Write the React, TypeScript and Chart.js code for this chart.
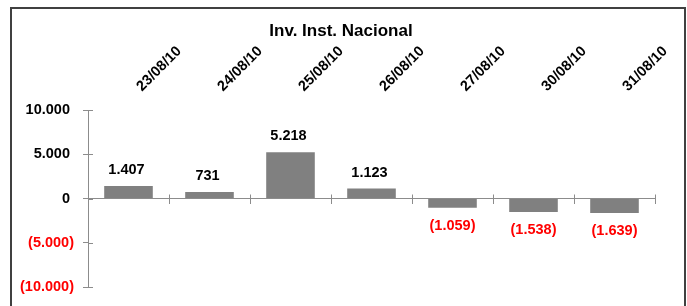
import React, { useEffect, useRef } from "react";
import { Chart, registerables } from "chart.js";

Chart.register(...registerables);

const TITLE = "Inv. Inst. Nacional";
const categories = ["23/08/10", "24/08/10", "25/08/10", "26/08/10", "27/08/10", "30/08/10", "31/08/10"];
const values = [1407, 731, 5218, 1123, -1059, -1538, -1639];
const yMin = -10000;
const yMax = 10000;
const yStep = 5000;

const FONT = '"Liberation Sans", Arial, Helvetica, sans-serif';
const AXIS = "#8c8c8c";
const BAR = "#808080";
const NEG = "#FF0000";

// Excel-like "#.##0_);(#.##0)": positives keep a trailing space where ")" would be
function fmt(v: number): string {
  const s = Math.abs(Math.round(v)).toString().replace(/\B(?=(\d{3})+(?!\d))/g, ".");
  return v < 0 ? `(${s})` : `${s} `;
}

export default function App() {
  const ref = useRef<HTMLCanvasElement>(null);

  useEffect(() => {
    const canvas = ref.current;
    if (!canvas) return;

    const dataLabels = {
      id: "dataLabels",
      afterDatasetsDraw(chart: any) {
        const ctx = chart.ctx;
        const meta = chart.getDatasetMeta(0);
        ctx.save();
        ctx.font = `bold 14.5px ${FONT}`;
        ctx.textAlign = "center";
        ctx.textBaseline = "middle";
        meta.data.forEach((bar: any, i: number) => {
          const v = values[i];
          const y = v >= 0 ? bar.y - 16 : bar.y + 18;
          ctx.fillStyle = v < 0 ? NEG : "#000000";
          ctx.fillText(fmt(v), bar.x, y);
        });
        ctx.restore();
      },
    };

    const crossTicks = {
      id: "crossTicks",
      afterDraw(chart: any) {
        const ctx = chart.ctx;
        const ys = chart.scales.y;
        const xs = chart.scales.x2;
        ctx.save();
        ctx.strokeStyle = AXIS;
        ctx.lineWidth = 1;
        ctx.beginPath();
        ys.ticks.forEach((_: any, i: number) => {
          const p = Math.round(ys.getPixelForTick(i)) + 0.5;
          ctx.moveTo(ys.right, p);
          ctx.lineTo(ys.right + 5, p);
        });
        const y0 = Math.round(ys.getPixelForValue(0)) + 0.5;
        const n = categories.length;
        for (let i = 0; i <= n; i++) {
          const p = Math.round(xs.left + (xs.width * i) / n) + 0.5;
          ctx.moveTo(p, y0);
          ctx.lineTo(p, y0 - 5);
        }
        ctx.stroke();
        ctx.restore();
      },
    };

    const tickFont = { family: FONT, size: 14.5, weight: "bold" as const };

    const chart = new Chart(canvas, {
      type: "bar",
      data: {
        labels: categories,
        datasets: [
          {
            data: values,
            backgroundColor: BAR,
            borderWidth: 0,
            barPercentage: 0.6,
            categoryPercentage: 1,
            xAxisID: "x",
            yAxisID: "y",
          },
        ],
      },
      options: {
        animation: false,
        responsive: false,
        maintainAspectRatio: false,
        layout: { padding: { left: 0, right: 5, top: 0, bottom: 19 } },
        plugins: {
          legend: { display: false },
          tooltip: { enabled: false },
          title: {
            display: true,
            text: TITLE,
            color: "#000000",
            font: { family: FONT, size: 17, weight: "bold", lineHeight: 1.2 },
            padding: { top: 21, bottom: 0 },
          },
        },
        scales: {
          x: {
            type: "category",
            position: "top",
            offset: true,
            grid: { display: false, offset: true },
            border: { display: false },
            ticks: {
              color: "#000000",
              font: tickFont,
              minRotation: 45,
              maxRotation: 45,
              padding: 7,
              labelOffset: 23,
              autoSkip: false,
            },
            afterFit: (s: any) => {
              s.height = 68.6;
              s.paddingLeft = 0;
              s.paddingRight = 0;
              s.paddingTop = 0;
              s.paddingBottom = 0;
            },
          },
          x2: {
            type: "category",
            position: { y: 0 },
            offset: true,
            grid: {
              display: true,
              offset: true,
              drawOnChartArea: false,
              drawTicks: true,
              tickLength: 5,
              color: AXIS,
            },
            border: { display: true, color: AXIS },
            ticks: { display: false },
          },
          y: {
            type: "linear",
            position: "left",
            min: yMin,
            max: yMax,
            ticks: {
              stepSize: yStep,
              color: (c: any) => (c.tick && c.tick.value < 0 ? NEG : "#000000"),
              font: tickFont,
              padding: 9,
              callback: (v: any) => fmt(Number(v)),
            },
            grid: {
              display: true,
              drawOnChartArea: false,
              tickLength: 5,
              color: AXIS,
            },
            border: { display: true, color: AXIS },
            afterFit: (s: any) => {
              s.width = 88;
              s.paddingTop = 0;
              s.paddingBottom = 0;
              s.paddingLeft = 0;
              s.paddingRight = 0;
            },
          },
          yR: {
            type: "linear",
            position: "right",
            display: true,
            min: yMin,
            max: yMax,
            grid: { display: false },
            border: { display: false },
            ticks: { display: false },
            afterFit: (s: any) => {
              s.width = 27;
              s.paddingTop = 0;
              s.paddingBottom = 0;
              s.paddingLeft = 0;
              s.paddingRight = 0;
            },
          },
        },
      } as any,
      plugins: [dataLabels, crossTicks],
    });

    return () => chart.destroy();
  }, []);

  return (
    <div
      style={{
        position: "fixed",
        left: 0,
        top: 0,
        width: 687,
        height: 306,
        overflow: "hidden",
        background: "#ffffff",
      }}
    >
      <canvas ref={ref} width={687} height={306} style={{ display: "block" }} />
      <div
        style={{
          position: "absolute",
          left: 10,
          top: 7,
          width: 676,
          height: 330,
          boxSizing: "border-box",
          border: "2px solid #404040",
          pointerEvents: "none",
        }}
      />
    </div>
  );
}
